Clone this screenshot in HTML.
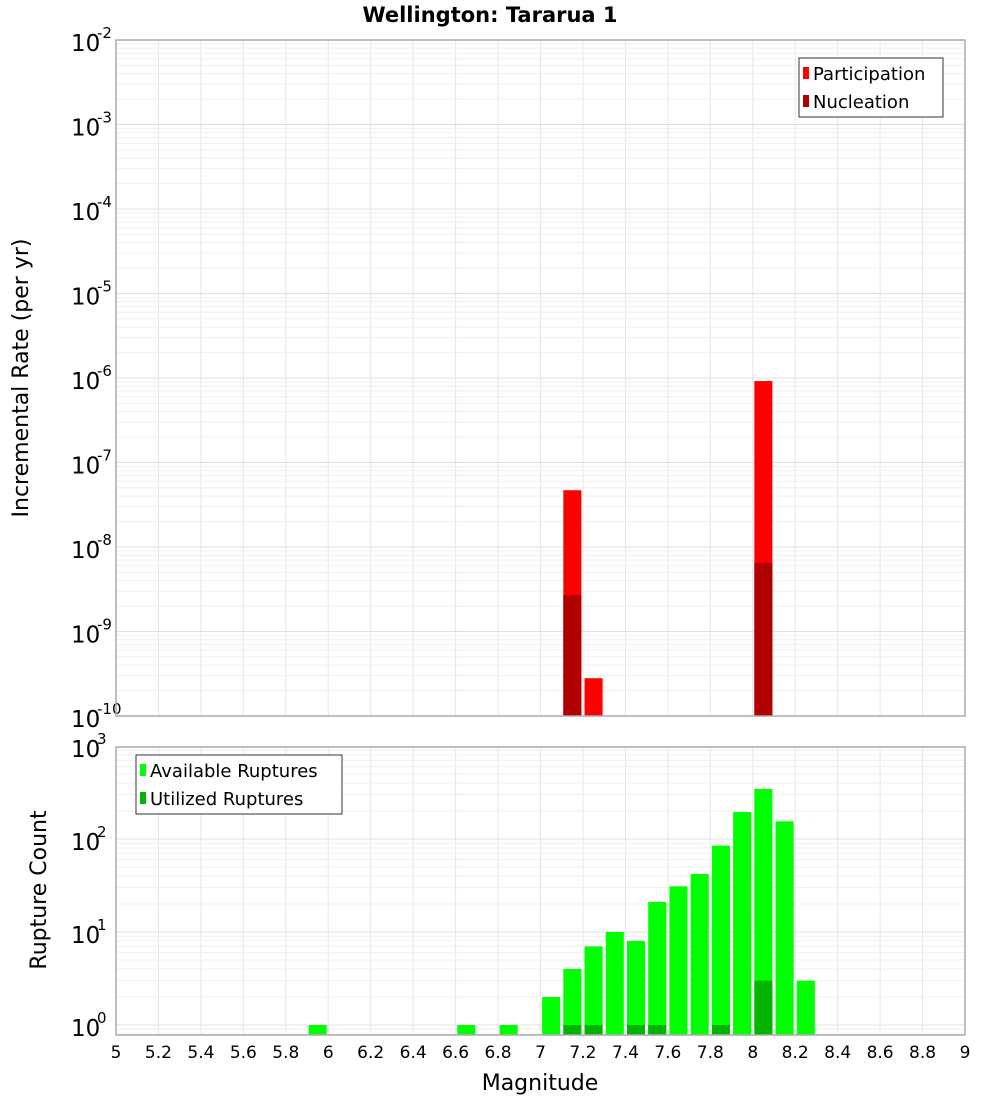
<!DOCTYPE html>
<html><head><meta charset="utf-8"><style>
body{margin:0;background:#fff;}
svg text{font-family:"DejaVu Sans","Liberation Sans",sans-serif;}
</style></head><body>
<svg id="c" width="1000" height="1100" xmlns="http://www.w3.org/2000/svg">
<text x="490" y="22" text-anchor="middle" font-size="21" font-weight="bold">Wellington: Tararua 1</text>
<text transform="translate(28,378) rotate(-90)" text-anchor="middle" font-size="22">Incremental Rate (per yr)</text>
<text transform="translate(46,890) rotate(-90)" text-anchor="middle" font-size="22">Rupture Count</text>
<text x="540" y="1090" text-anchor="middle" font-size="22">Magnitude</text>
</svg>
<script>
const rateMags=[7.15,7.25,8.05];
const participation=[4.7e-8,2.8e-10,9.2e-7];
const nucleation=[2.7e-9,0,6.5e-9];
const countMags=[5.95,6.65,6.85,7.05,7.15,7.25,7.35,7.45,7.55,7.65,7.75,7.85,7.95,8.05,8.15,8.25];
const available=[1,1,1,2,4,7,10,8,21,31,42,85,195,345,155,3];
const utilized=[0,0,0,0,1,1,0,1,1,0,0,1,0,3,0,0];
const xTicks=[5,5.2,5.4,5.6,5.8,6,6.2,6.4,6.6,6.8,7,7.2,7.4,7.6,7.8,8,8.2,8.4,8.6,8.8,9];
const topExps=[-2,-3,-4,-5,-6,-7,-8,-9,-10];
const botExps=[3,2,1,0];

const NS='http://www.w3.org/2000/svg';
const svg=document.getElementById('c');
const L=116,R=965;
const x=m=>L+(m-5)*(R-L)/4;
const T1=40,B1=716,T2=747,B2=1035;
const yTop=v=>T1+(-2-Math.log10(v))*(B1-T1)/8;
const botDec=93;
const yBot=v=>(B2-10)-Math.log10(v)*botDec;
function el(t,a,p){const e=document.createElementNS(NS,t);for(const k in a)e.setAttribute(k,a[k]);(p||svg).appendChild(e);return e;}
function txt(s,a){const e=el('text',a);e.textContent=s;return e;}

function panel(top,bot,name){
  const g=el('g',{});
  
  
  for(let i=1;i<xTicks.length-1;i++){el('line',{x1:x(xTicks[i]),x2:x(xTicks[i]),y1:top,y2:bot,stroke:'#e6e6e6','stroke-width':1},g);}
  return g;
}
// top panel
panel(T1,B1,'top');
const gt=el('g',{});
for(let e=-10;e<-2;e++){for(let k=1;k<10;k++){const y=yTop(k*Math.pow(10,e));el('line',{x1:L,x2:R,y1:y,y2:y,stroke:k==1?'#e0e0e0':'#efefef','stroke-width':1},gt);}}
topExps.forEach(e=>{const y=yTop(Math.pow(10,e));
 const t=txt('10',{x:71,y:y+11,'font-size':23});
 const s=txt(String(e),{x:97,y:y-2,'font-size':15});});
const bw=(R-L)/40*0.85;
rateMags.forEach((m,i)=>{
 const b=el('rect',{x:x(m)-bw/2,y:yTop(participation[i]),width:bw,height:B1-yTop(participation[i]),fill:'#ff0000'});
 
 if(nucleation[i]>0){const n=el('rect',{x:x(m)-bw/2,y:yTop(nucleation[i]),width:bw,height:B1-yTop(nucleation[i]),fill:'#b00000'});
 }
});
const f1=el('rect',{x:L,y:T1,width:R-L,height:B1-T1,fill:'none',stroke:'#aaa','stroke-width':1.5});

// legend top
const lg=el('g',{});
el('rect',{x:799,y:58,width:144,height:59,fill:'#fff',stroke:'#333','stroke-width':1},lg);
el('rect',{x:803,y:67,width:6,height:12,fill:'#ff0000'},lg);
el('rect',{x:803,y:95,width:6,height:12,fill:'#b00000'},lg);
const lt1=txt('Participation',{x:813,y:80,'font-size':18});lg.appendChild(lt1);
const lt2=txt('Nucleation',{x:813,y:108,'font-size':18});lg.appendChild(lt2);

// bottom panel
panel(T2,B2,'bottom');
const gb=el('g',{});
for(let e=-1;e<3;e++){for(let k=1;k<10;k++){const v=k*Math.pow(10,e);const y=yBot(v);if(y>B2||y<T2)continue;el('line',{x1:L,x2:R,y1:y,y2:y,stroke:k==1?'#e0e0e0':'#efefef','stroke-width':1},gb);}}
botExps.forEach(e=>{const y=yBot(Math.pow(10,e));
 const t=txt('10',{x:71,y:y+11,'font-size':23});
 const s=txt(String(e),{x:97,y:y-2,'font-size':15});});
countMags.forEach((m,i)=>{
 const b=el('rect',{x:x(m)-bw/2,y:yBot(available[i]),width:bw,height:B2-yBot(available[i]),fill:'#00ff00'});
 
 if(utilized[i]>0){const u=el('rect',{x:x(m)-bw/2,y:yBot(utilized[i]),width:bw,height:B2-yBot(utilized[i]),fill:'#00b400'});
 }
});
const f2=el('rect',{x:L,y:T2,width:R-L,height:B2-T2,fill:'none',stroke:'#aaa','stroke-width':1.5});

const lb=el('g',{});
el('rect',{x:136,y:755,width:206,height:59,fill:'#fff',stroke:'#333','stroke-width':1},lb);
el('rect',{x:140,y:764,width:6,height:12,fill:'#00ff00'},lb);
el('rect',{x:140,y:792,width:6,height:12,fill:'#00b400'},lb);
lb.appendChild(txt('Available Ruptures',{x:150,y:777,'font-size':18}));
lb.appendChild(txt('Utilized Ruptures',{x:150,y:805,'font-size':18}));
// x ticks
xTicks.forEach(t=>{const s=txt(String(t),{x:x(t),y:1058,'font-size':17,'text-anchor':'middle'});
 });
</script>
</body></html>
